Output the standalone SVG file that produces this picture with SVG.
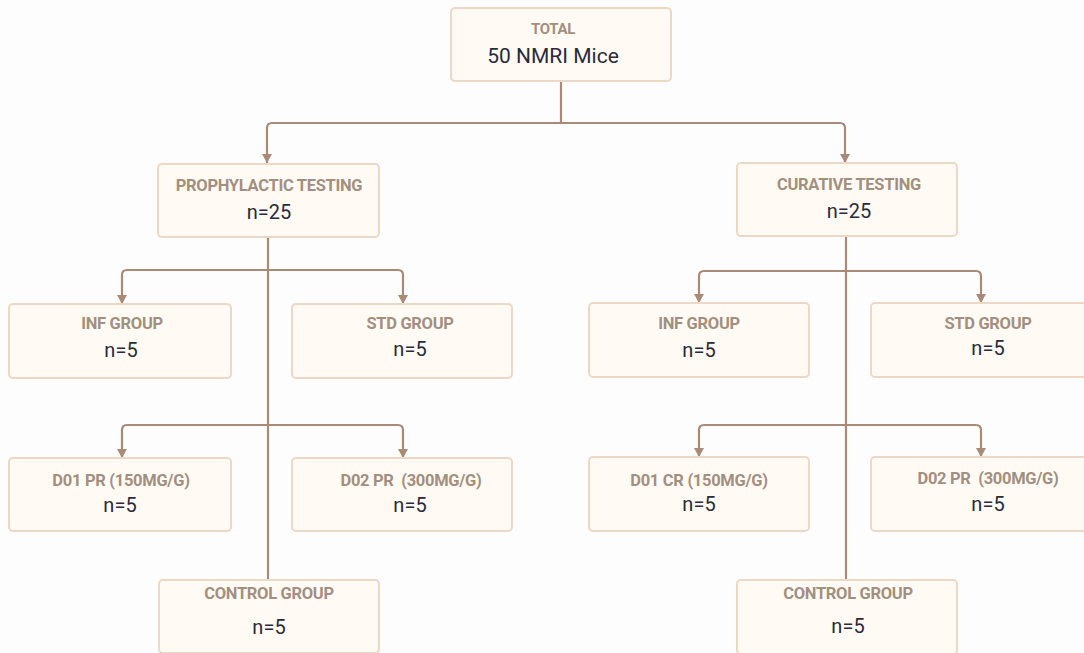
<svg xmlns="http://www.w3.org/2000/svg" width="1084" height="653" viewBox="0 0 1084 653">
<defs>
<marker id="tip" markerUnits="userSpaceOnUse" markerWidth="11" markerHeight="10" refX="9" refY="5" orient="auto" viewBox="0 0 9 10">
<path d="M0,0 L9,5 L0,10 z" fill="#a88a76"/>
</marker>
<style>
.box{fill:#fffbf4;stroke:#ecd8c4;stroke-width:2}
.lbl{font-family:Roboto,"Liberation Sans",sans-serif;font-weight:bold;font-size:16.5px;fill:#a38f7f;text-anchor:middle;dominant-baseline:central;letter-spacing:-0.3px}
.val{font-family:Roboto,"Liberation Sans",sans-serif;font-size:20px;fill:#2a2a3a;text-anchor:middle;dominant-baseline:central}
.big{font-size:21px}
.con{fill:none;stroke:#a88a76;stroke-width:2.2}
</style>
</defs>
<rect width="1084" height="653" fill="#fdfdfd"/>
<g id="connectors">
<path class="con" d="M561,81 V123 H272 Q267,123 267,128 V163" marker-end="url(#tip)"/>
<path class="con" d="M561,123 H840 Q845,123 845,128 V163" marker-end="url(#tip)"/>
<path class="con" d="M268,238 V580"/>
<path class="con" d="M268,270 H127 Q122,270 122,275 V304" marker-end="url(#tip)"/>
<path class="con" d="M268,270 H398 Q403,270 403,275 V304" marker-end="url(#tip)"/>
<path class="con" d="M268,425 H127 Q122,425 122,430 V458" marker-end="url(#tip)"/>
<path class="con" d="M268,425 H398 Q403,425 403,430 V458" marker-end="url(#tip)"/>
<path class="con" d="M846,236 V580"/>
<path class="con" d="M846,271 H704 Q699,271 699,276 V303" marker-end="url(#tip)"/>
<path class="con" d="M846,271 H976 Q981,271 981,276 V303" marker-end="url(#tip)"/>
<path class="con" d="M846,425 H704 Q699,425 699,430 V457" marker-end="url(#tip)"/>
<path class="con" d="M846,425 H976 Q981,425 981,430 V457" marker-end="url(#tip)"/>
</g>
<g id="total">
<rect class="box" x="451" y="8" width="220" height="73" rx="4"/>
<text class="lbl" x="553" y="29" style="font-size:15px">TOTAL</text>
<text class="val big" x="553" y="56">50 NMRI Mice</text>
</g>
<g id="prophylactic">
<rect class="box" x="158" y="164" width="221" height="73" rx="4"/>
<text class="lbl" x="269" y="185">PROPHYLACTIC TESTING</text>
<text class="val" x="269" y="212">n=25</text>
</g>
<g id="curative">
<rect class="box" x="737" y="163" width="220" height="73" rx="4"/>
<text class="lbl" x="849" y="184">CURATIVE TESTING</text>
<text class="val" x="849" y="211">n=25</text>
</g>
<g id="p-inf">
<rect class="box" x="9" y="304" width="222" height="74" rx="4"/>
<text class="lbl" x="122" y="323">INF GROUP</text>
<text class="val" x="121" y="350">n=5</text>
</g>
<g id="p-std">
<rect class="box" x="292" y="304" width="220" height="74" rx="4"/>
<text class="lbl" x="410" y="323">STD GROUP</text>
<text class="val" x="410" y="349">n=5</text>
</g>
<g id="p-d01">
<rect class="box" x="9" y="458" width="222" height="73" rx="4"/>
<text class="lbl" x="121" y="480">D01 PR (150MG/G)</text>
<text class="val" x="120" y="505">n=5</text>
</g>
<g id="p-d02">
<rect class="box" x="292" y="458" width="220" height="73" rx="4"/>
<text class="lbl" x="411" y="480" xml:space="preserve">D02 PR  (300MG/G)</text>
<text class="val" x="410" y="505">n=5</text>
</g>
<g id="p-control">
<rect class="box" x="159" y="580" width="220" height="73" rx="4"/>
<text class="lbl" x="269" y="593">CONTROL GROUP</text>
<text class="val" x="269" y="627">n=5</text>
</g>
<g id="c-inf">
<rect class="box" x="589" y="303" width="220" height="74" rx="4"/>
<text class="lbl" x="699" y="323">INF GROUP</text>
<text class="val" x="699" y="350">n=5</text>
</g>
<g id="c-std">
<rect class="box" x="871" y="303" width="222" height="74" rx="4"/>
<text class="lbl" x="988" y="323">STD GROUP</text>
<text class="val" x="988" y="348">n=5</text>
</g>
<g id="c-d01">
<rect class="box" x="589" y="457" width="220" height="74" rx="4"/>
<text class="lbl" x="699" y="480">D01 CR (150MG/G)</text>
<text class="val" x="699" y="504">n=5</text>
</g>
<g id="c-d02">
<rect class="box" x="871" y="457" width="222" height="74" rx="4"/>
<text class="lbl" x="988" y="478" xml:space="preserve">D02 PR  (300MG/G)</text>
<text class="val" x="988" y="504">n=5</text>
</g>
<g id="c-control">
<rect class="box" x="737" y="580" width="220" height="74" rx="4"/>
<text class="lbl" x="848" y="593">CONTROL GROUP</text>
<text class="val" x="848" y="626">n=5</text>
</g>
</svg>
